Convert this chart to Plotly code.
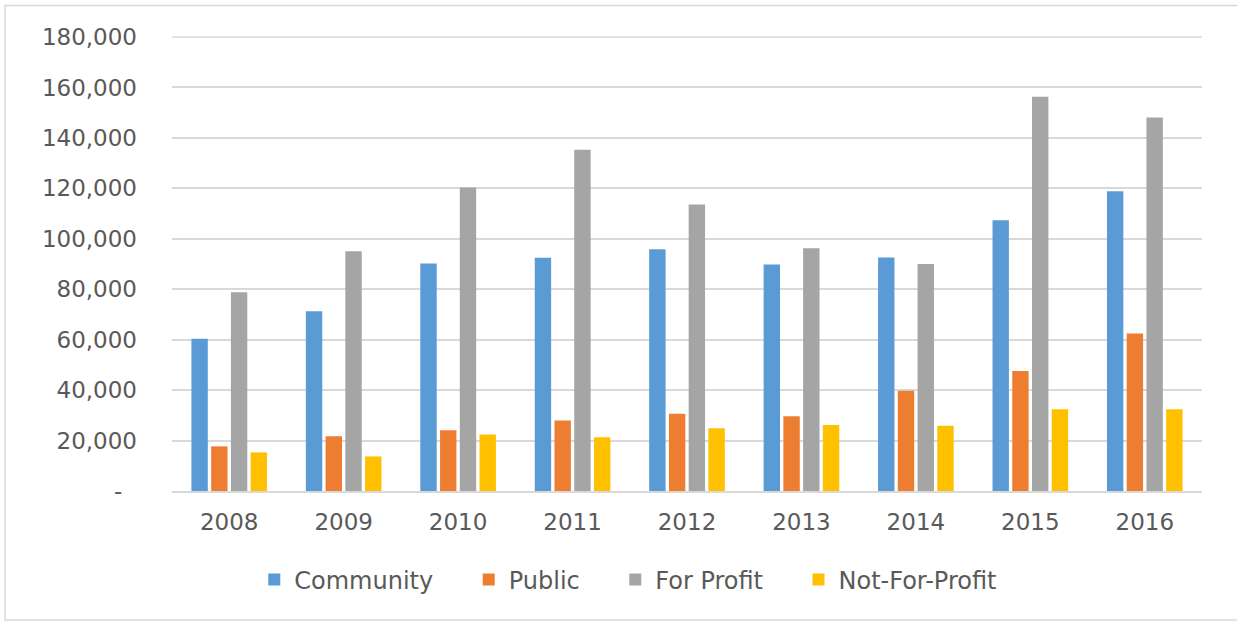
import plotly.graph_objects as go

years = ["2008", "2009", "2010", "2011", "2012", "2013", "2014", "2015", "2016"]
community = [60400, 71300, 90200, 92500, 95800, 89800, 92600, 107300, 118800]
public = [17700, 21700, 24100, 28000, 30600, 29600, 39700, 47600, 62400]
for_profit = [78800, 95100, 120300, 135300, 113600, 96200, 90000, 156300, 148100]
not_for_profit = [15300, 13700, 22400, 21300, 24900, 26200, 25900, 32400, 32400]

series_names = ["Community", "Public", "For Profit", "Not-For-Profit"]
series_colors = ["#5B9BD5", "#ED7D31", "#A5A5A5", "#FFC000"]
series_values = [community, public, for_profit, not_for_profit]

y_max = 180000
y_tickvals = [0, 20000, 40000, 60000, 80000, 100000, 120000, 140000, 160000, 180000]
y_ticktext = ["-\u00a0\u00a0"] + [f"{v:,}" for v in y_tickvals[1:]]

fig = go.Figure()
for i, (name, color, vals) in enumerate(zip(series_names, series_colors, series_values)):
    label = name + ("\u00a0" * 4 if i < len(series_names) - 1 else "")
    fig.add_trace(go.Bar(
        x=years, y=vals, name=label,
        marker=dict(color=color, line=dict(width=0)),
    ))

font_family = "DejaVu Sans"
tick_color = "#595959"
grid_color = "#D9D9D9"

fig.update_layout(
    width=1237, height=622,
    margin=dict(l=172, r=35, t=37, b=131),
    paper_bgcolor="white", plot_bgcolor="white",
    barmode="group", bargap=0.31, bargroupgap=0.17,
    font=dict(family=font_family, size=23, color=tick_color),
    showlegend=True,
    legend=dict(
        orientation="h", x=0.443, xanchor="center", y=-0.196, yanchor="middle",
        font=dict(family=font_family, size=24, color=tick_color),
        bgcolor="rgba(0,0,0,0)",
    ),
    xaxis=dict(
        showgrid=False, showline=True, linecolor=grid_color, linewidth=1.5,
        ticks="", ticklabelstandoff=10,
        tickfont=dict(family=font_family, size=23, color=tick_color),
    ),
    yaxis=dict(
        range=[0, y_max], tickvals=y_tickvals, ticktext=y_ticktext,
        showgrid=True, gridcolor=grid_color, gridwidth=1.5,
        zeroline=False, showline=False, ticks="", ticklabelstandoff=34,
        tickfont=dict(family=font_family, size=23, color=tick_color),
    ),
    shapes=[
        dict(
            type="rect", xref="paper", yref="paper",
            x0=(5 - 172) / 1030, x1=(1240 - 172) / 1030,
            y0=(491 - 620) / 454, y1=(491 - 5.5) / 454,
            line=dict(color=grid_color, width=1.5), fillcolor="rgba(0,0,0,0)", layer="below",
        ),
        dict(
            type="line", xref="paper", yref="paper", x0=0, x1=1, y0=1, y1=1,
            line=dict(color=grid_color, width=1.5), layer="below",
        ),
    ],
)

fig.write_html(
    "out.html",
    config={"displayModeBar": False},
    post_script="document.body.style.margin='0';document.body.style.overflow='hidden';",
)
